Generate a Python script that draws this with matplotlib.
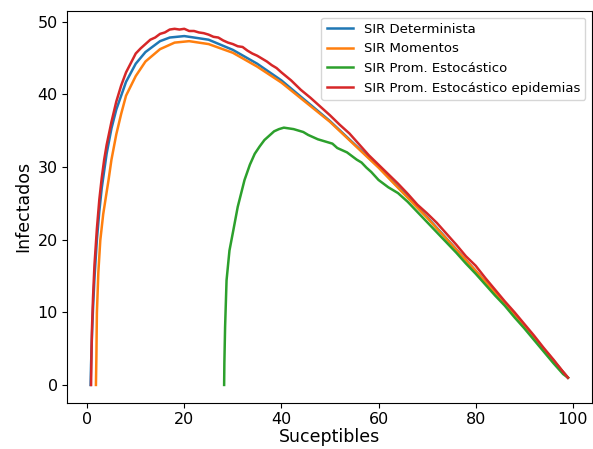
import matplotlib
matplotlib.use('Agg')
import matplotlib.pyplot as plt

# SIR determinista (S, I)
s_det = [0.7, 0.8, 1.0, 1.2, 1.5, 2.0, 2.5, 3.0, 4.0, 5.0, 6.0, 8.0, 10.0, 12.0, 15.0, 17.0,
         20.0, 25.0, 30.0, 35.0, 40.0, 50.0, 60.0, 70.0, 80.0, 90.0, 99.0]
i_det = [0.0, 2.8, 7.1, 10.5, 14.7, 20.0, 23.9, 27.1, 31.8, 35.3, 37.9, 41.7, 44.2, 45.8, 47.3, 47.8,
         48.0, 47.5, 46.1, 44.2, 41.9, 36.3, 30.0, 23.1, 15.7, 8.1, 1.0]

# SIR momentos
s_mom = [1.8, 1.9, 2.0, 2.3, 2.7, 3.3, 4.0, 4.4, 5.0, 6.0, 7.0, 8.0, 10.0, 12.0, 15.0, 18.0,
         21.0, 25.0, 30.0, 35.0, 40.0, 50.0, 60.0, 70.0, 80.0, 90.0, 99.0]
i_mom = [0.0, 4.0, 9.9, 15.5, 19.9, 23.5, 26.5, 28.2, 31.0, 34.5, 37.3, 39.8, 42.5, 44.5, 46.2, 47.1,
         47.3, 46.9, 45.7, 43.8, 41.6, 36.2, 29.9, 23.0, 15.7, 8.1, 1.0]

# SIR promedio estocastico
s_est = [28.2, 28.25, 28.4, 28.7, 29.3, 30.1, 31.0, 32.4, 33.5, 34.5, 35.5, 36.5, 37.5, 38.5, 39.5,
         40.5, 41.5, 42.5, 43.5, 44.5, 45.5, 46.5, 47.5, 48.5, 49.5, 50.5, 51.5, 52.5, 53.5, 54.5,
         55.5, 56.5, 57.5, 58.5, 60.0, 62.0, 64.0, 66.0, 68.0, 70.0, 72.0, 74.0, 76.0, 78.0, 80.0,
         82.0, 84.0, 86.0, 88.0, 90.0, 92.0, 94.0, 96.0, 98.0, 99.0]
i_est = [0.0, 3.0, 8.0, 14.4, 18.5, 21.3, 24.5, 28.2, 30.3, 31.8, 32.8, 33.7, 34.3, 34.9, 35.2,
         35.4, 35.3, 35.2, 35.0, 34.8, 34.4, 34.1, 33.8, 33.6, 33.4, 33.2, 32.6, 32.3, 32.0, 31.5,
         31.0, 30.6, 29.9, 29.3, 28.2, 27.2, 26.4, 25.2, 23.8, 22.4, 21.0, 19.6, 18.2, 16.7, 15.3,
         13.8, 12.3, 10.9, 9.3, 7.8, 6.2, 4.6, 3.0, 1.5, 1.0]

# SIR promedio estocastico de epidemias
s_epi = [0.8, 0.9, 1.0, 1.2, 1.5, 2.0, 2.5, 3.0, 3.5, 4.0, 5.0, 6.0, 7.0, 8.0, 9.0, 10.0, 11.0,
         12.0, 13.0, 14.0, 15.0, 16.0, 17.0, 18.0, 19.0, 20.0, 21.0, 22.0, 23.0, 24.0, 25.0, 26.0,
         27.0, 28.0, 29.0, 30.0, 31.0, 32.0, 33.0, 34.0, 35.0, 36.0, 37.0, 38.0, 39.0, 40.0, 42.0,
         44.0, 46.0, 48.0, 50.0, 52.0, 54.0, 56.0, 58.0, 60.0, 62.0, 64.0, 66.0, 68.0, 70.0, 72.0,
         74.0, 76.0, 78.0, 80.0, 82.0, 84.0, 86.0, 88.0, 90.0, 92.0, 94.0, 96.0, 98.0, 99.0]
i_epi = [0.0, 5.0, 8.0, 12.0, 16.5, 21.5, 25.5, 28.5, 31.0, 33.0, 36.2, 39.0, 41.2, 43.0, 44.3, 45.6, 46.3,
         46.9, 47.5, 47.8, 48.3, 48.5, 48.9, 49.0, 48.9, 49.0, 48.7, 48.7, 48.5, 48.4, 48.2, 47.9,
         47.8, 47.4, 47.1, 46.9, 46.6, 46.5, 46.0, 45.6, 45.3, 44.9, 44.5, 44.0, 43.6, 43.0, 41.9,
         40.6, 39.5, 38.3, 37.1, 35.8, 34.6, 33.1, 31.6, 30.3, 29.0, 27.7, 26.3, 24.8, 23.6, 22.3,
         20.8, 19.3, 17.7, 16.4, 14.7, 13.1, 11.5, 10.0, 8.4, 6.8, 5.1, 3.5, 1.8, 1.0]

fig = plt.figure(figsize=(5.93, 4.49), dpi=100)
ax = fig.add_axes([0.1125, 0.103, 0.8855, 0.8725])

ax.plot(s_det, i_det, lw=1.8, label='SIR Determinista')
ax.plot(s_mom, i_mom, lw=1.8, label='SIR Momentos')
ax.plot(s_est, i_est, lw=1.8, label='SIR Prom. Estocástico')
ax.plot(s_epi, i_epi, lw=1.8, label='SIR Prom. Estocástico epidemias')

ax.set_xlabel('Suceptibles', fontsize=12.5, labelpad=1)
ax.set_ylabel('Infectados', fontsize=12.5)
ax.tick_params(labelsize=11.5, pad=3)
ax.legend(loc='upper right', fontsize=9.5)

fig.savefig('out.png', dpi=100)
